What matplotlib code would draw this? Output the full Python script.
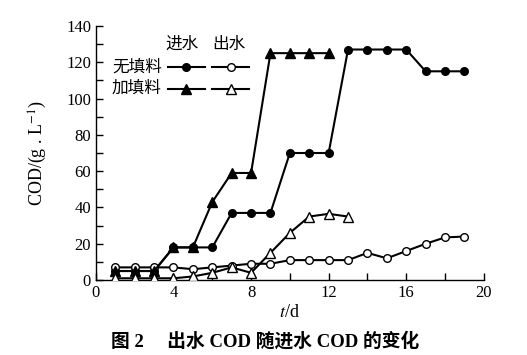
import matplotlib.pyplot as plt
from matplotlib.ticker import MultipleLocator

plt.rcParams['font.family'] = ['Liberation Serif', 'Noto Sans CJK SC']
plt.rcParams['mathtext.fontset'] = 'stix'

# 无填料
days_a = list(range(1, 20))
in_a = [5, 5, 5, 18, 18, 18, 37, 37, 37, 70, 70, 70, 127, 127, 127, 127, 115, 115, 115]
out_a = [7, 7, 7, 7, 6, 7, 8, 9, 9, 11, 11, 11, 11, 15, 12, 16, 20, 23.5, 24]

# 加填料
days_b_in = list(range(1, 13))
in_b = [5, 5, 5, 18, 18, 43, 59, 59, 125, 125, 125, 125]
days_b_out = list(range(1, 14))
out_b = [1, 1, 1, 1, 2, 4, 7, 4, 15, 26, 35, 36.5, 35]

fig = plt.figure(figsize=(5.27, 3.55), dpi=100)
ax = fig.add_axes([0.182, 0.211, 0.736, 0.716])

lw = 1.5
ms = 5.5
ax.plot(days_a, in_a, '-o', color='black', lw=lw, ms=ms, mfc='black', zorder=3)
ax.plot(days_a, out_a, '-o', color='black', lw=lw, ms=ms, mfc='white', zorder=3)
ax.plot(days_b_in, in_b, '-^', color='black', lw=lw, ms=ms + 1, mfc='black', zorder=3)
ax.plot(days_b_out, out_b, '-^', color='black', lw=lw, ms=ms + 1, mfc='white', zorder=3)

ax.set_xlim(0, 20)
ax.set_ylim(0, 140)
ax.xaxis.set_major_locator(MultipleLocator(4))
ax.xaxis.set_minor_locator(MultipleLocator(2))
ax.yaxis.set_major_locator(MultipleLocator(20))
ax.yaxis.set_minor_locator(MultipleLocator(10))
ax.tick_params(which='both', direction='in', labelsize=12, width=1)
ax.tick_params(which='major', length=5)
ax.tick_params(which='minor', length=5)
ax.spines['top'].set_visible(False)
ax.spines['right'].set_visible(False)
for s in ['left', 'bottom']:
    ax.spines[s].set_linewidth(1)

ax.set_xlabel('$t$/d', fontsize=13, labelpad=2)
ax.set_ylabel('COD/(g . L$^{-1}$)', fontsize=13, labelpad=12)

# legend drawn by hand
tr = ax.transAxes
ax.text(0.222, 0.925, '进水', transform=tr, fontsize=12, ha='center', va='center')
ax.text(0.342, 0.925, '出水', transform=tr, fontsize=12, ha='center', va='center')
rows = [(0.837, '无填料', 'o', ms), (0.752, '加填料', '^', ms + 1)]
for y, label, mk, size in rows:
    ax.text(0.17, y, label, transform=tr, fontsize=12, ha='right', va='center')
    ax.plot([0.185, 0.28], [y, y], color='black', lw=lw, transform=tr, clip_on=False)
    ax.plot([0.233], [y], mk, color='black', mfc='black', ms=size, transform=tr, clip_on=False)
    ax.plot([0.3, 0.395], [y, y], color='black', lw=lw, transform=tr, clip_on=False)
    ax.plot([0.347], [y], mk, color='black', mfc='white', ms=size, transform=tr, clip_on=False)

fig.text(0.503, 0.04, '图 2　 出水 COD 随进水 COD 的变化', fontsize=13.5, fontweight='bold',
         ha='center', va='center')

fig.savefig('out.png', dpi=100)
